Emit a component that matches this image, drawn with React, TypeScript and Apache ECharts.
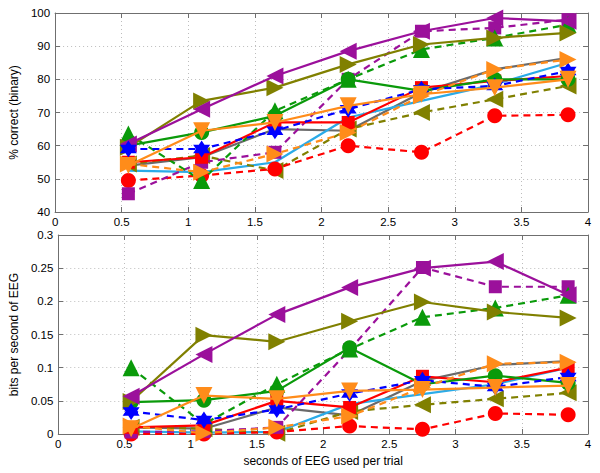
import React, { useEffect, useRef } from "react";
import * as echarts from "echarts";

const xs = [0.55, 1.1, 1.65, 2.2, 2.75, 3.3, 3.85];
const xTicks = [0, 0.5, 1, 1.5, 2, 2.5, 3, 3.5, 4];
const topTicks = [40, 50, 60, 70, 80, 90, 100];
const bottomTicks = [0, 0.05, 0.1, 0.15, 0.2, 0.25, 0.3];

// % correct (binary)
const purpleSolid = [60.5, 71, 81, 88.5, 94.5, 98.5, 97.5];
const purpleDashed = [45.5, 55, 58, 80, 94.5, 95.5, 98];
const oliveSolid = [59.5, 73.5, 77.5, 84.5, 90.5, 92.5, 94];
const oliveDashed = [54.5, 57, 52.5, 65, 70, 74, 78];
const greenSolid = [60, 64, 69, 80, 76.5, 80, 80];
const greenDashed = [63.5, 49.5, 70.5, 80, 89, 92.5, 96.5];
const blueDashed = [59, 59, 64.5, 71, 77, 78, 82.5];
const redSolid = [55, 56.5, 67, 67, 77.5, 79.5, 81];
const redDashed = [49.5, 51, 53, 60, 58, 69, 69.3];
const orangeSolid = [54, 64.5, 67, 72, 75.5, 77.5, 80];
const orangeDashed = [54.5, 52, 57.5, 64, 75, 83, 86];
const graySolid = [54, 56.5, 65, 64.5, 76, 83, 86.5];
const cyanSolid = [52.5, 52, 55, 68.5, 73.5, 78.5, 85];

// bits per second of EEG
const purpleSolidB = [0.057, 0.12, 0.18, 0.221, 0.25, 0.26, 0.21];
const purpleDashedB = [0.003, 0.004, 0.01, 0.127, 0.251, 0.222, 0.222];
const oliveSolidB = [0.049, 0.149, 0.139, 0.17, 0.199, 0.184, 0.175];
const oliveDashedB = [0.01, 0.008, 0.001, 0.034, 0.044, 0.053, 0.062];
const greenSolidB = [0.048, 0.051, 0.065, 0.13, 0.075, 0.088, 0.077];
const greenDashedB = [0.1, 0.015, 0.075, 0.128, 0.176, 0.19, 0.209];
const blueDashedB = [0.034, 0.021, 0.037, 0.061, 0.081, 0.071, 0.086];
const redSolidB = [0.01, 0.013, 0.05, 0.04, 0.087, 0.078, 0.1];
const redDashedB = [0.0, 0.0, 0.003, 0.012, 0.007, 0.031, 0.029];
const orangeSolidB = [0.008, 0.058, 0.053, 0.065, 0.067, 0.07, 0.073];
const orangeDashedB = [0.012, 0.001, 0.01, 0.027, 0.07, 0.106, 0.108];
const graySolidB = [0.01, 0.008, 0.04, 0.028, 0.08, 0.104, 0.11];
const cyanSolidB = [0.004, 0.002, 0.003, 0.045, 0.06, 0.075, 0.1];

const HEX =
  "path://M0,-10L2.887,-5L8.66,-5L5.774,0L8.66,5L2.887,5L0,10L-2.887,5L-8.66,5L-5.774,0L-8.66,-5L-2.887,-5Z";

const styles = [
  { key: "graySolid", top: graySolid, bot: graySolidB, color: "#6a6a6a", dash: false, symbol: "none", rot: 0, size: 0 },
  { key: "cyanSolid", top: cyanSolid, bot: cyanSolidB, color: "#2aabe8", dash: false, symbol: "none", rot: 0, size: 0 },
  { key: "oliveDashed", top: oliveDashed, bot: oliveDashedB, color: "#808000", dash: true, symbol: "triangle", rot: 90, size: 17 },
  { key: "redDashed", top: redDashed, bot: redDashedB, color: "#ff0000", dash: true, symbol: "circle", rot: 0, size: 15 },
  { key: "purpleDashed", top: purpleDashed, bot: purpleDashedB, color: "#9b109b", dash: true, symbol: "rect", rot: 0, size: 13 },
  { key: "greenDashed", top: greenDashed, bot: greenDashedB, color: "#0a9a0a", dash: true, symbol: "triangle", rot: 0, size: 17 },
  { key: "redSolid", top: redSolid, bot: redSolidB, color: "#ff0000", dash: false, symbol: "rect", rot: 0, size: 13 },
  { key: "greenSolid", top: greenSolid, bot: greenSolidB, color: "#0a9a0a", dash: false, symbol: "circle", rot: 0, size: 15 },
  { key: "oliveSolid", top: oliveSolid, bot: oliveSolidB, color: "#808000", dash: false, symbol: "triangle", rot: -90, size: 17 },
  { key: "purpleSolid", top: purpleSolid, bot: purpleSolidB, color: "#9b109b", dash: false, symbol: "triangle", rot: 90, size: 17 },
  { key: "blueDashed", top: blueDashed, bot: blueDashedB, color: "#0000ff", dash: true, symbol: HEX, rot: 0, size: 17 },
  { key: "orangeSolid", top: orangeSolid, bot: orangeSolidB, color: "#ff8c1a", dash: false, symbol: "triangle", rot: 180, size: 17 },
  { key: "orangeDashed", top: orangeDashed, bot: orangeDashedB, color: "#ff8c1a", dash: true, symbol: "triangle", rot: -90, size: 17 },
];

const FONT = "Liberation Sans";
const AXIS_COLOR = "#6f6f6f";

function xAxisDef(gridIndex: number, position: "bottom" | "top", showLabels: boolean, name?: string) {
  return {
    type: "value",
    gridIndex,
    position,
    min: 0,
    max: 4,
    interval: 0.5,
    name: name || "",
    nameLocation: "middle",
    nameGap: 21,
    nameTextStyle: { color: "#000", fontFamily: FONT, fontSize: 12 },
    axisLine: { show: true, onZero: false, lineStyle: { color: AXIS_COLOR, width: 1 } },
    axisTick: { show: true, inside: true, length: 5, lineStyle: { color: AXIS_COLOR } },
    axisLabel: {
      show: showLabels,
      color: "#000",
      fontFamily: FONT,
      fontSize: 11.5,
      margin: 4,
      formatter: (v: number) => (xTicks.includes(v) ? String(v) : ""),
    },
    splitLine: position === "bottom" ? { show: true, lineStyle: { color: "#bdbdbd", type: [1, 3], width: 1 } } : { show: false },
  };
}

function yAxisDef(gridIndex: number, position: "left" | "right", min: number, max: number, interval: number, ticks: number[], name?: string) {
  return {
    type: "value",
    gridIndex,
    position,
    min,
    max,
    interval,
    name: name || "",
    nameLocation: "middle",
    nameGap: 31,
    nameTextStyle: { color: "#000", fontFamily: FONT, fontSize: 12 },
    axisLine: { show: true, onZero: false, lineStyle: { color: AXIS_COLOR, width: 1 } },
    axisTick: { show: true, inside: true, length: 5, lineStyle: { color: AXIS_COLOR } },
    axisLabel: {
      show: position === "left",
      color: "#000",
      fontFamily: FONT,
      fontSize: 11.5,
      margin: 5,
      formatter: (v: number) => {
        const t = ticks.find((k) => Math.abs(k - v) < 1e-9);
        return t === undefined ? "" : String(t);
      },
    },
    splitLine: position === "left" ? { show: true, lineStyle: { color: "#bdbdbd", type: [1, 3], width: 1 } } : { show: false },
  };
}

export default function App() {
  const ref = useRef<HTMLDivElement>(null);
  useEffect(() => {
    document.body.style.margin = "0";
    if (!ref.current) return;
    const chart = echarts.init(ref.current, null, { renderer: "svg" });
    const series: any[] = [];
    styles.forEach((s, i) => {
      [0, 1].forEach((panel) => {
        const vals = panel === 0 ? s.top : s.bot;
        series.push({
          type: "line",
          name: s.key + (panel === 0 ? "_acc" : "_bits"),
          xAxisIndex: panel === 0 ? 0 : 2,
          yAxisIndex: panel === 0 ? 0 : 2,
          data: xs.map((x, j) => [x, vals[j]]),
          symbol: s.symbol,
          symbolSize: s.size,
          symbolRotate: s.rot,
          showSymbol: s.symbol !== "none",
          z: 2 + i,
          lineStyle: { color: s.color, width: 2.2, type: s.dash ? [7, 5] : "solid" },
          itemStyle: { color: s.color, borderWidth: 0 },
          emphasis: { disabled: true },
          clip: false,
        });
      });
    });
    chart.setOption({
      animation: false,
      backgroundColor: "#fff",
      grid: [
        { left: 51, top: 13, width: 537, height: 199 },
        { left: 51, top: 235, width: 537, height: 199 },
      ],
      xAxis: [
        xAxisDef(0, "bottom", true),
        xAxisDef(0, "top", false),
        xAxisDef(1, "bottom", true, "seconds of EEG used per trial"),
        xAxisDef(1, "top", false),
      ],
      yAxis: [
        yAxisDef(0, "left", 40, 100, 10, topTicks, "% correct (binary)"),
        yAxisDef(0, "right", 40, 100, 10, topTicks),
        yAxisDef(1, "left", 0, 0.3, 0.05, bottomTicks, "bits per second of EEG"),
        yAxisDef(1, "right", 0, 0.3, 0.05, bottomTicks),
      ],
      series,
    });
    return () => chart.dispose();
  }, []);
  return <div ref={ref} style={{ width: 600, height: 473 }} />;
}
